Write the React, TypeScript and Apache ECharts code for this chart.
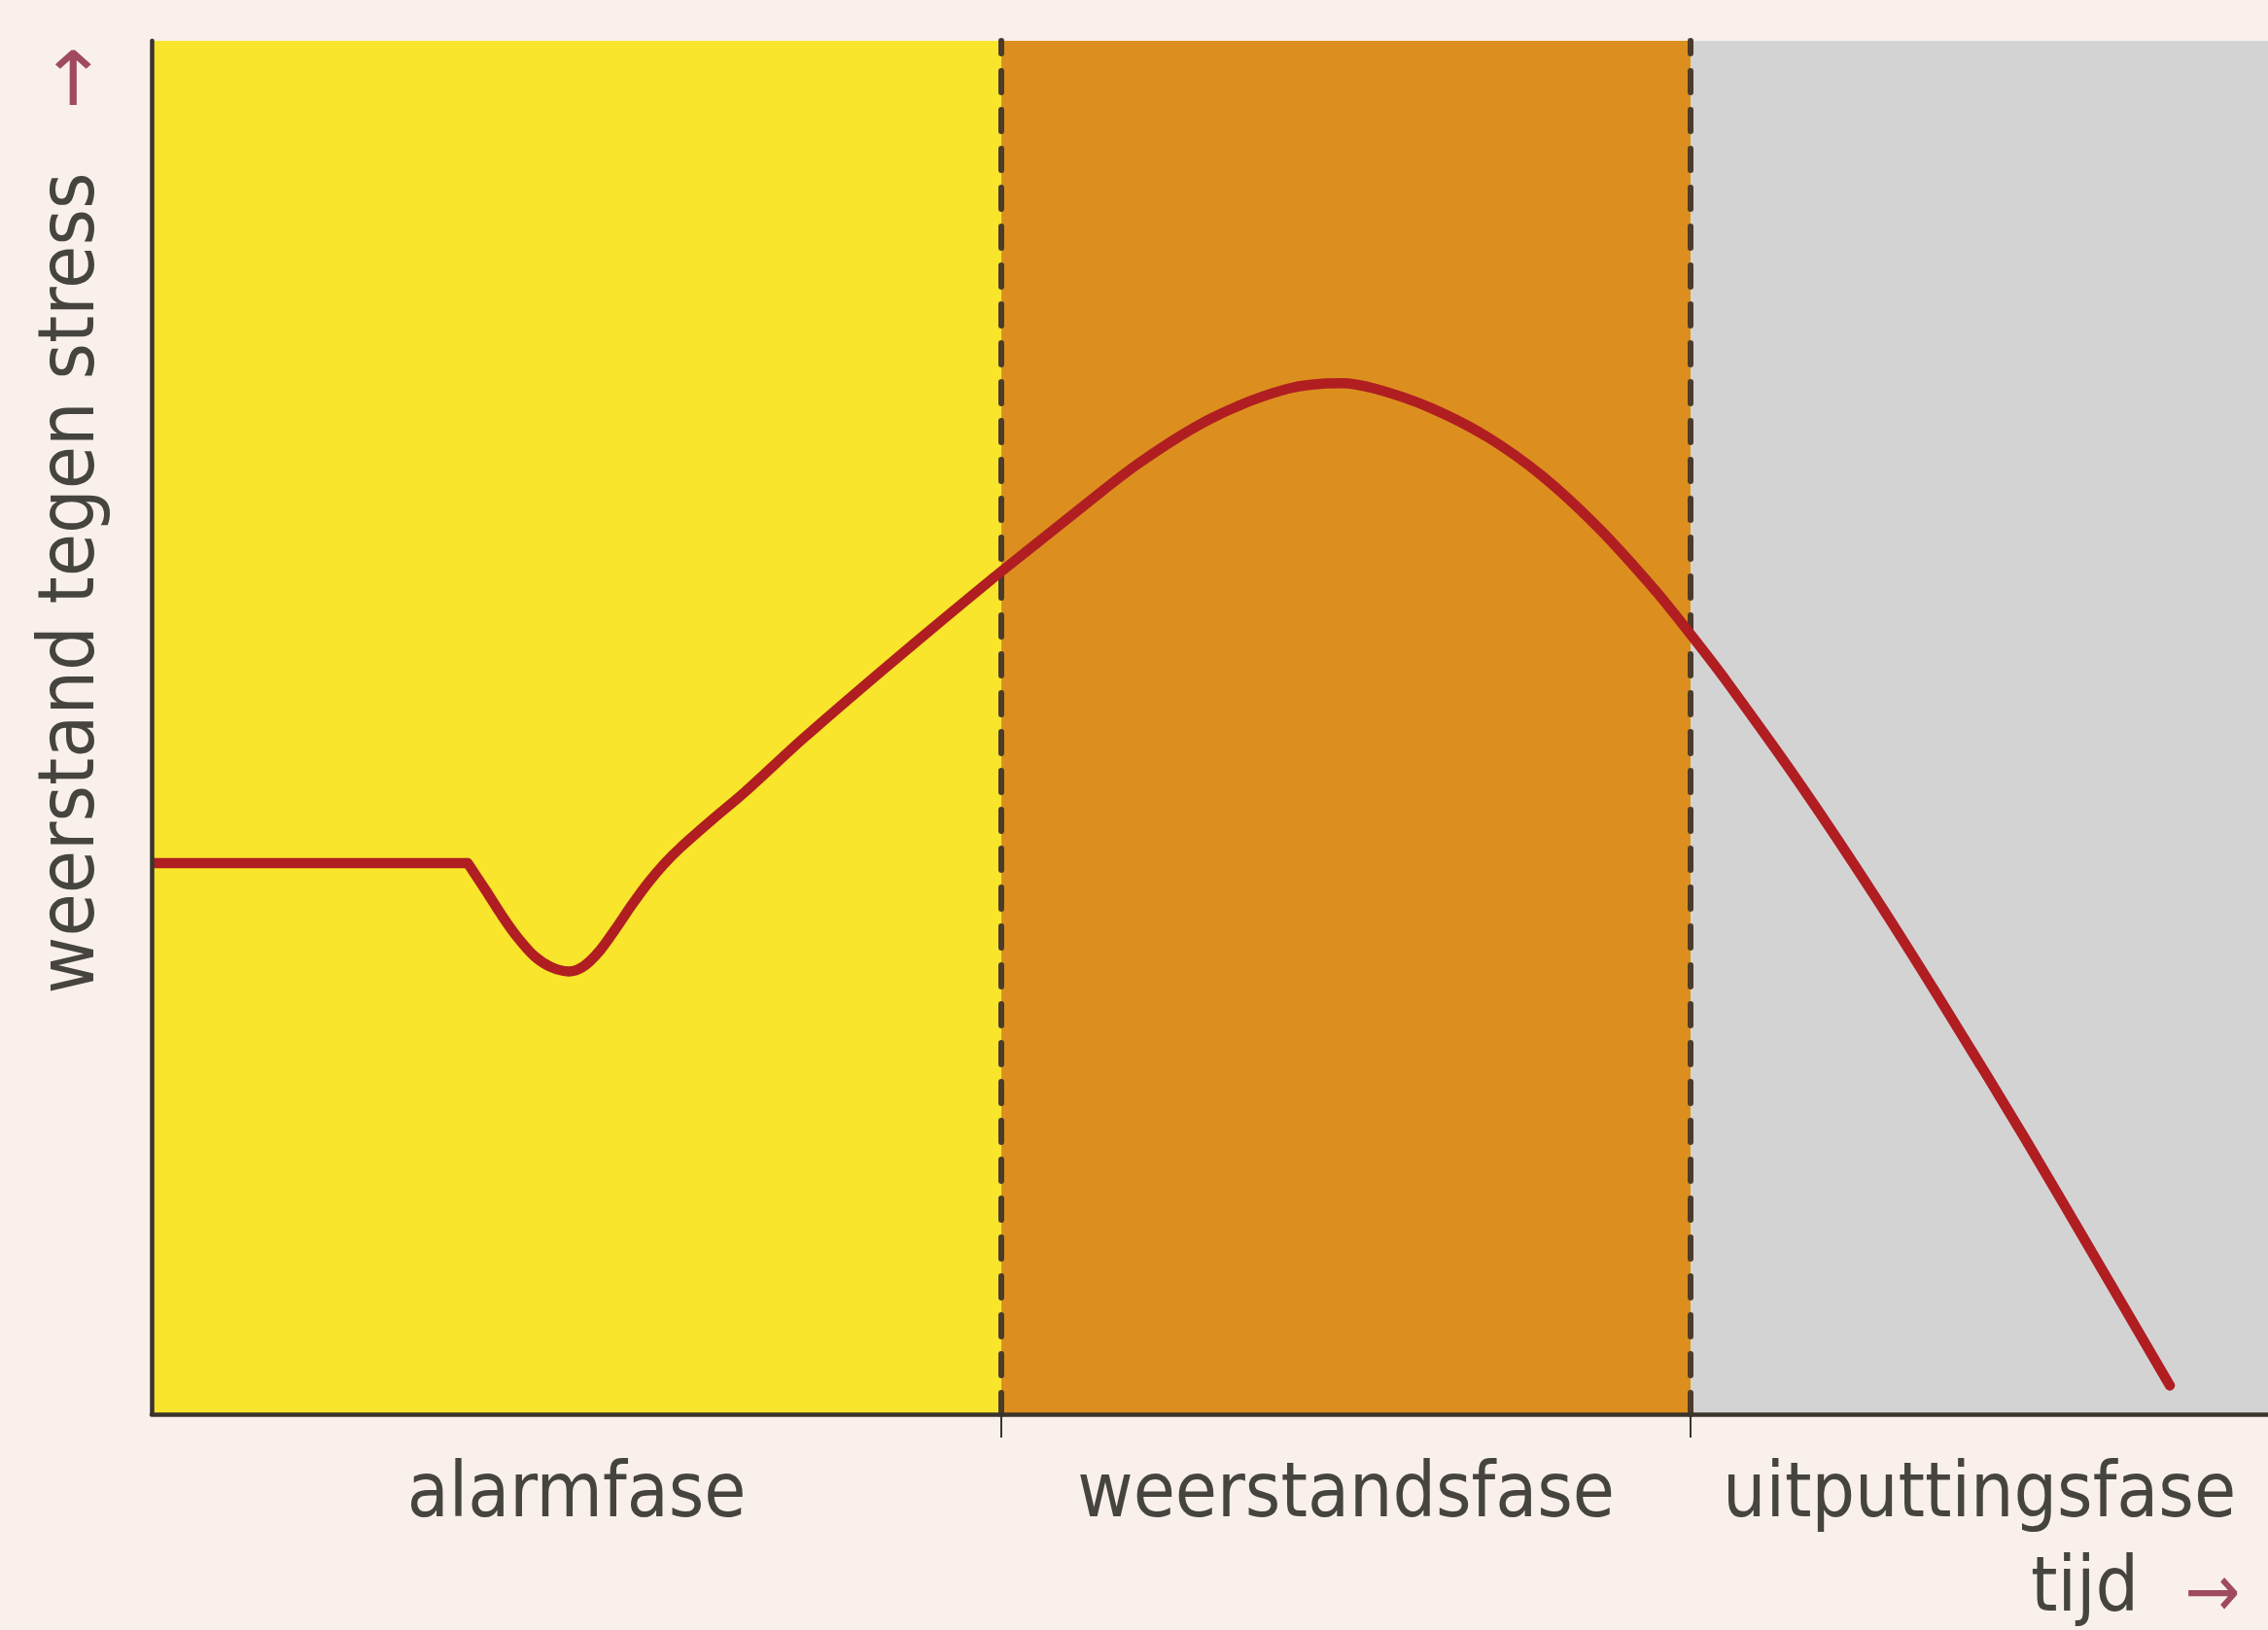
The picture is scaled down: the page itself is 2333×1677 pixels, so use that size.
import React, { useEffect, useRef } from "react";
import * as echarts from "echarts";

// ---- data ----
const phaseNames = ["alarmfase", "weerstandsfase", "uitputtingsfase"];
const phaseBounds = [0, 40.15, 72.72, 100];
const phaseColors = ["#f8e52c", "#dc8f1e", "#d4d3d4"];

// flat starting level (before the alarm reaction)
const baseX = [0, 14.93];
const baseY = [40.13, 40.13];

// reaction curve (from the end of the flat segment)
const curveX = [
  14.93, 15.8, 16.58, 17.32, 18.1, 18.88, 19.71, 20.4, 21.18, 21.91, 22.69,
  23.47, 24.21, 24.99, 26.5, 28.07, 30.78, 34.32, 37.88, 40.13, 43.09, 46.62,
  50.11, 53.67, 56.2, 57.83, 60.43, 63.1, 65.7, 68.36, 71.03, 72.74, 74.41,
  77.93, 81.48, 84.97, 88.53, 92.01, 95.36,
];
const curveY = [
  40.13, 38.11, 36.24, 34.66, 33.33, 32.55, 32.24, 32.6, 33.76, 35.31, 37.08,
  38.71, 40.06, 41.26, 43.31, 45.36, 49.19, 53.9, 58.49, 61.34, 64.97, 69.21,
  72.54, 74.66, 75.07, 74.66, 73.28, 71.17, 68.32, 64.54, 60.01, 56.74, 53.38,
  45.79, 37.58, 29.04, 20.04, 10.93, 2.09,
];

const yTitle = "weerstand tegen stress";
const xTitle = "tijd";
const arrow = "→";

const FONT = '"DejaVu Sans Condensed", "Liberation Sans Narrow", "DejaVu Sans", sans-serif';
const TEXT = "#46443f";
const ARROW = "#a04a5e";
const CURVE = "#b01e22";

export default function App() {
  const ref = useRef<HTMLDivElement>(null);
  useEffect(() => {
    if (!ref.current) return;
    const chart = echarts.init(ref.current, undefined, { renderer: "svg" });
    const base = baseX.map((x, i) => [x, baseY[i]]);
    const line = curveX.map((x, i) => [x, curveY[i]]);
    const areas = phaseNames.map((n, i) => [
      { name: n, xAxis: phaseBounds[i], itemStyle: { color: phaseColors[i] } },
      { xAxis: phaseBounds[i + 1] },
    ]);
    const axisLine = { show: true, onZero: false, lineStyle: { color: "#3b342c", width: 4.5 } };
    const lineStyle = { color: CURVE, width: 10.5, join: "round", cap: "round" };
    chart.setOption({
      animation: false,
      backgroundColor: "#f9f0eb",
      grid: { left: 156, top: 42, right: 0, bottom: 222 },
      xAxis: {
        type: "value",
        min: 0,
        max: 100,
        z: 10,
        axisLine,
        axisTick: {
          show: true,
          customValues: [phaseBounds[1], phaseBounds[2]],
          length: 24,
          lineStyle: { color: "#3b342c", width: 2 },
        },
        axisLabel: { show: false },
        splitLine: { show: false },
      },
      yAxis: {
        type: "value",
        min: 0,
        max: 100,
        z: 10,
        axisLine,
        axisTick: { show: false },
        axisLabel: { show: false },
        splitLine: { show: false },
      },
      series: [
        {
          type: "line",
          data: base,
          symbol: "none",
          showSymbol: false,
          z: 5,
          lineStyle: { ...lineStyle, cap: "butt" },
          markArea: {
            silent: true,
            label: {
              show: true,
              position: "bottom",
              distance: 39,
              color: TEXT,
              fontSize: 78,
              lineHeight: 78,
              fontFamily: FONT,
            },
            data: areas,
          },
          markLine: {
            silent: true,
            symbol: "none",
            label: { show: false },
            lineStyle: { type: [22, 18], color: "#4b3b2a", width: 6, cap: "round" },
            data: [{ xAxis: phaseBounds[1] }, { xAxis: phaseBounds[2] }],
          },
        },
        {
          type: "line",
          data: line,
          symbol: "none",
          showSymbol: false,
          smooth: 0.3,
          z: 6,
          lineStyle,
        },
      ],
      graphic: [
        {
          type: "text",
          x: 68,
          y: 600,
          rotation: Math.PI / 2,
          style: {
            text: yTitle,
            fill: TEXT,
            fontSize: 80,
            fontFamily: FONT,
            align: "center",
            verticalAlign: "middle",
          },
        },
        {
          type: "text",
          x: 72,
          y: 80,
          rotation: Math.PI / 2,
          style: {
            text: arrow,
            fill: ARROW,
            fontSize: 86,
            fontFamily: FONT,
            align: "center",
            verticalAlign: "middle",
          },
        },
        {
          type: "text",
          x: 2200,
          y: 1630,
          style: {
            text: xTitle,
            fill: TEXT,
            fontSize: 78,
            lineHeight: 60,
            fontFamily: FONT,
            align: "right",
            verticalAlign: "middle",
          },
        },
        {
          type: "text",
          x: 2276,
          y: 1636,
          style: {
            text: arrow,
            fill: ARROW,
            fontSize: 76,
            lineHeight: 40,
            fontFamily: FONT,
            align: "center",
            verticalAlign: "middle",
          },
        },
      ],
    });
    return () => chart.dispose();
  }, []);
  return (
    <div
      ref={ref}
      style={{ position: "fixed", left: 0, top: 0, width: 2333, height: 1677 }}
    />
  );
}
